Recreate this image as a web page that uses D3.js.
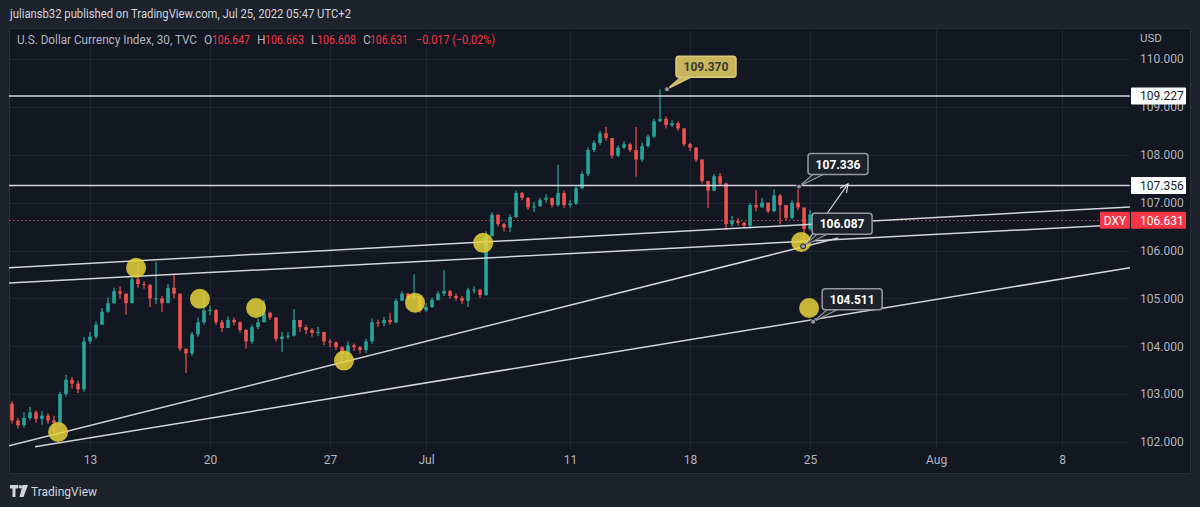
<!DOCTYPE html>
<html><head><meta charset="utf-8">
<script src="https://cdn.jsdelivr.net/npm/d3@7/dist/d3.min.js"></script>
<style>html,body{margin:0;padding:0;background:#1e222d;}svg{display:block}</style>
</head><body>
<svg id="chart" width="1200" height="507"></svg>
<script>
// ---------------- DATA ----------------
const priceTicks = [110, 109, 108, 107, 106, 105, 104, 103, 102];
const timeTickLabels = ["13", "20", "27", "Jul", "11", "18", "25", "Aug", "8"];
const timeTickDays = [0, 5, 10, 14, 20, 25, 30, 35.25, 40.5];   // trading-day index (Jun 13 = 0)
const candleFirstDay = -3.25;   // 6-hour candles
const candleStepDays = 0.25;
const firstOpen = 102.80;
const closes = [
 102.45,102.35,102.50,102.62,102.48,102.55,102.45,102.40,103.00,103.30,
 103.22,103.10,104.10,104.20,104.45,104.72,104.90,105.15,105.10,104.90,
 105.40,105.30,105.28,105.00,105.00,104.90,105.22,105.10,103.95,103.85,
 104.25,104.50,104.75,104.76,104.50,104.38,104.55,104.50,104.34,104.10,
 104.40,104.50,104.70,104.60,104.15,104.20,104.22,104.55,104.40,104.34,
 104.28,104.30,104.10,104.08,103.98,103.85,104.02,103.98,103.92,104.10,
 104.50,104.48,104.55,104.50,104.95,105.10,105.02,105.05,104.75,104.82,
 104.97,105.10,105.15,105.05,105.01,104.95,105.18,105.18,105.07,106.30,
 106.75,106.55,106.48,106.70,107.20,107.10,106.90,106.92,107.06,107.10,
 106.95,107.20,106.95,106.98,107.30,107.60,108.10,108.25,108.45,108.35,
 107.98,108.15,108.22,108.10,107.90,108.18,108.38,108.70,108.75,108.62,
 108.66,108.55,108.22,108.15,107.90,107.45,107.25,107.55,107.40,106.55,
 106.62,106.58,106.52,106.95,106.90,107.00,106.82,107.15,106.95,106.68,
 107.00,106.90,106.45,106.75,106.631];
const highs = [
 102.85,102.50,102.62,102.73,102.66,102.64,102.60,102.55,103.05,103.40,
 103.36,103.28,104.20,104.30,104.52,104.80,105.02,105.22,105.25,105.10,
 105.46,105.74,105.35,105.30,105.76,105.05,105.30,105.49,105.05,103.95,
 104.30,104.60,105.11,104.85,104.78,104.55,104.62,104.60,104.52,104.36,
 104.45,104.58,104.97,104.72,104.60,104.30,104.30,104.78,104.55,104.45,
 104.38,104.40,104.25,104.15,104.10,104.00,104.10,104.06,104.00,104.15,
 104.58,104.56,104.62,104.70,105.00,105.15,105.12,105.51,105.05,104.90,
 105.02,105.15,105.59,105.18,105.10,105.05,105.22,105.25,105.20,106.40,
 106.80,106.72,106.58,106.75,107.25,107.22,107.12,107.02,107.10,107.18,
 107.10,107.79,107.25,107.06,107.35,107.65,108.15,108.30,108.50,108.58,
 108.35,108.20,108.28,108.25,108.58,108.25,108.42,108.75,109.37,108.80,
 108.72,108.70,108.56,108.25,108.15,107.90,107.45,107.60,107.62,107.42,
 106.72,106.68,106.60,107.00,107.26,107.10,107.00,107.28,107.18,106.92,
 107.05,107.336,106.75,106.85,106.80];
const lows = [
 102.38,102.28,102.30,102.45,102.40,102.36,102.38,102.19,102.35,102.95,
 103.12,103.02,103.05,104.05,104.15,104.45,104.70,104.88,105.00,104.66,
 104.90,105.22,105.20,104.82,104.88,104.72,104.90,105.00,103.90,103.44,
 103.80,104.20,104.45,104.65,104.45,104.30,104.38,104.44,104.28,103.95,
 104.05,104.36,104.50,104.55,104.10,103.88,104.15,104.20,104.30,104.25,
 104.20,104.22,104.02,103.98,103.92,103.67,103.70,103.90,103.85,103.86,
 104.05,104.40,104.42,104.45,104.48,104.95,104.96,104.98,104.70,104.72,
 104.80,104.95,105.05,105.00,104.95,104.88,104.82,105.10,105.02,105.05,
 106.30,106.50,106.40,106.38,106.68,107.05,106.85,106.80,106.95,107.00,
 106.90,106.92,106.89,106.90,106.95,107.28,107.55,108.05,108.20,108.30,
 107.92,107.95,108.12,108.05,107.54,107.85,108.15,108.35,108.68,108.55,
 108.58,108.50,108.18,108.08,107.85,107.40,106.89,107.25,107.35,106.43,
 106.50,106.52,106.48,106.45,106.82,106.90,106.78,106.80,106.55,106.62,
 106.65,106.85,106.087,106.42,106.60];
const lastPrice = 106.631;
const horizontalLevels = [109.227, 107.356];
// drawn trend lines: [day1, price1, day2, price2]
const trendLines = [
  [-3.375, 105.64, 43.33, 106.91],
  [-3.375, 105.32, 43.33, 106.55],
  [-3.375, 101.92, 31.17, 106.26],
  [-2.29, 101.90, 43.33, 105.64]
];
const arrowLine = [29.79, 106.12, 31.58, 107.39];
const markerDays =   [-1.33, 1.92, 4.58, 6.92, 10.58, 13.54, 16.38, 29.63, 29.96];
const markerPrices = [102.21, 105.64, 104.99, 104.80, 103.70, 104.91, 106.16, 106.18, 104.80];
const calloutLabels = ["109.370", "107.336", "106.087", "104.511"];
const calloutDays =   [24.04, 29.54, 29.71, 30.13];
const calloutPrices = [109.370, 107.336, 106.087, 104.511];
const calloutGold =   [true, false, false, false];

// ---------------- LAYOUT ----------------
const W = 1200, H = 507;
const pane = {left: 9, top: 28, right: 1190, bottom: 473};
const plot = {left: 9, right: 1130, top: 28, bottom: 449};
const FONT = "Roboto, 'Liberation Sans', Arial, sans-serif";
const C = {bg: "#131722", frame: "#1e222d", grid: "#212533", text: "#b2b5be", up: "#26a69a", down: "#ef5350", red: "#f23645", line: "#d1d4dc"};

const svg = d3.select("#chart").style("font-family", FONT);
svg.append("rect").attr("width", W).attr("height", H).attr("fill", C.frame);
svg.append("rect").attr("x", pane.left + 0.5).attr("y", pane.top + 0.5)
  .attr("width", pane.right - pane.left).attr("height", pane.bottom - pane.top)
  .attr("fill", C.bg).attr("stroke", "#2a2e39").attr("stroke-width", 1);

const x = d3.scaleLinear().domain([-3.375, 43.33]).range([plot.left, plot.right]);
const y = d3.scaleLinear().domain([102, 110]).range([442, 59]);
const py = v => Math.round(y(v)) + 0.5;

svg.append("defs").append("clipPath").attr("id", "plotClip")
  .append("rect").attr("x", plot.left).attr("y", plot.top)
  .attr("width", plot.right - plot.left).attr("height", pane.bottom - plot.top);

// grid
const grid = svg.append("g");
grid.selectAll("line.h").data(priceTicks).join("line")
  .attr("x1", plot.left).attr("x2", plot.right)
  .attr("y1", d => py(d)).attr("y2", d => py(d))
  .attr("stroke", C.grid).attr("stroke-width", 1);
grid.selectAll("line.v").data(timeTickDays).join("line")
  .attr("x1", d => Math.round(x(d)) + 0.5).attr("x2", d => Math.round(x(d)) + 0.5)
  .attr("y1", plot.top).attr("y2", plot.bottom)
  .attr("stroke", C.grid).attr("stroke-width", 1);

// axes
const yAxis = d3.axisRight(y).tickValues(priceTicks).tickFormat(d3.format(".3f")).tickSize(0).tickPadding(10);
const ga = svg.append("g").attr("transform", `translate(${plot.right},0)`).call(yAxis);
ga.select(".domain").remove();
ga.selectAll("text").attr("fill", C.text).attr("font-size", 12).attr("font-family", FONT);

const xAxis = d3.axisBottom(x).tickValues(timeTickDays)
  .tickFormat((d, i) => timeTickLabels[i]).tickSize(0).tickPadding(6);
const gx = svg.append("g").attr("transform", `translate(0,${plot.bottom})`).call(xAxis);
gx.select(".domain").remove();
gx.selectAll("text").attr("fill", C.text).attr("font-size", 12).attr("font-family", FONT);

svg.append("text").attr("x", 1140).attr("y", 42).text("USD")
  .attr("fill", C.text).attr("font-size", 11.5);

// candles
const candles = closes.map((c, i) => ({
  day: candleFirstDay + i * candleStepDays,
  o: i === 0 ? firstOpen : closes[i - 1], h: highs[i], l: lows[i], c: c
}));
const cg = svg.append("g").attr("clip-path", "url(#plotClip)");
const bw = x(candleStepDays) - x(0);
const cgs = cg.selectAll("g.c").data(candles).join("g");
cgs.append("line")
  .attr("x1", d => x(d.day)).attr("x2", d => x(d.day))
  .attr("y1", d => y(d.h)).attr("y2", d => y(d.l))
  .attr("stroke", d => d.c >= d.o ? C.up : C.down).attr("stroke-width", 1.2);
cgs.append("rect")
  .attr("x", d => x(d.day) - bw * 0.3).attr("width", bw * 0.6)
  .attr("y", d => y(Math.max(d.o, d.c)))
  .attr("height", d => Math.max(1, Math.abs(y(d.o) - y(d.c))))
  .attr("fill", d => d.c >= d.o ? C.up : C.down);

// last price dotted line
cg.append("line").attr("x1", plot.left).attr("x2", plot.right)
  .attr("y1", py(lastPrice)).attr("y2", py(lastPrice))
  .attr("stroke", C.red).attr("stroke-width", 1).attr("stroke-dasharray", "1.5,2.5");

// drawings
const dg = svg.append("g").attr("clip-path", "url(#plotClip)");
dg.selectAll("line.hl").data(horizontalLevels).join("line")
  .attr("x1", plot.left).attr("x2", plot.right)
  .attr("y1", d => y(d)).attr("y2", d => y(d))
  .attr("stroke", C.line).attr("stroke-width", 1.5);
dg.selectAll("line.tl").data(trendLines).join("line")
  .attr("x1", d => x(d[0])).attr("y1", d => y(d[1]))
  .attr("x2", d => x(d[2])).attr("y2", d => y(d[3]))
  .attr("stroke", C.line).attr("stroke-width", 1.5);

// arrow
(() => {
  const [d1, p1, d2, p2] = arrowLine;
  const x1 = x(d1), y1 = y(p1), x2 = x(d2), y2 = y(p2);
  const ang = Math.atan2(y2 - y1, x2 - x1);
  const L = 9, a = 0.45;
  dg.append("line").attr("x1", x1).attr("y1", y1).attr("x2", x2).attr("y2", y2)
    .attr("stroke", C.line).attr("stroke-width", 1.2);
  dg.append("path")
    .attr("d", `M${x2 - L * Math.cos(ang - a)},${y2 - L * Math.sin(ang - a)}L${x2},${y2}L${x2 - L * Math.cos(ang + a)},${y2 - L * Math.sin(ang + a)}`)
    .attr("fill", "none").attr("stroke", C.line).attr("stroke-width", 1.2);
})();

// yellow markers
dg.selectAll("circle.m").data(markerDays.map((d, i) => [d, markerPrices[i]])).join("circle")
  .attr("cx", d => x(d[0])).attr("cy", d => y(d[1])).attr("r", 10)
  .attr("fill", "#e5d438").attr("fill-opacity", 0.85);

// callouts
const callouts = calloutLabels.map((t, i) => ({t, d: calloutDays[i], p: calloutPrices[i], gold: calloutGold[i]}));
callouts.forEach(cl => {
  const ax = x(cl.d), ay = y(cl.p);
  const bx = ax + 9, by = ay - 33, bwid = 60, bh = 21;
  const fill = cl.gold ? "#c8b55c" : "#1e222d";
  const stroke = cl.gold ? "#d9c97c" : "#9598a1";
  const g = svg.append("g");
  g.append("path")
    .attr("d", `M${ax},${ay}L${bx + 6},${by + bh - 1}L${bx + 17},${by + bh - 1}Z`)
    .attr("fill", fill).attr("stroke", stroke).attr("stroke-width", 1.2);
  g.append("rect").attr("x", bx).attr("y", by).attr("width", bwid).attr("height", bh)
    .attr("rx", 3).attr("fill", fill).attr("stroke", stroke).attr("stroke-width", 1.5);
  g.append("text").attr("x", bx + bwid / 2).attr("y", by + bh / 2 + 4.5)
    .attr("text-anchor", "middle").attr("font-size", 12).attr("font-weight", 700)
    .attr("fill", cl.gold ? "#3a3a30" : "#ffffff").text(cl.t);
  g.append("circle").attr("cx", ax).attr("cy", ay).attr("r", 2.5)
    .attr("fill", "#9598a1").attr("stroke", "#131722").attr("stroke-width", 1);
});

// axis price labels
function axisLabel(price, bg, fg) {
  const yy = y(price);
  svg.append("rect").attr("x", plot.right + 1).attr("y", yy - 8.5).attr("width", 55).attr("height", 17)
    .attr("fill", bg).attr("rx", 1);
  svg.append("text").attr("x", 1140).attr("y", yy + 4.3).attr("font-size", 12)
    .attr("fill", fg).text(d3.format(".3f")(price));
}
horizontalLevels.forEach(p => axisLabel(p, "#ffffff", "#131722"));
axisLabel(lastPrice, C.red, "#ffffff");
svg.append("rect").attr("x", plot.right - 30).attr("y", y(lastPrice) - 8.5).attr("width", 30).attr("height", 17)
  .attr("fill", C.red).attr("rx", 1);
svg.append("text").attr("x", plot.right - 15).attr("y", y(lastPrice) + 4.3).attr("text-anchor", "middle")
  .attr("font-size", 12).attr("fill", "#ffffff").text("DXY");

// header texts
svg.append("text").attr("x", 10).attr("y", 18).attr("font-size", 12).attr("fill", "#d1d4dc")
  .attr("textLength", 341).attr("lengthAdjust", "spacingAndGlyphs")
  .text("juliansb32 published on TradingView.com, Jul 25, 2022 05:47 UTC+2");
const legendParts = [
  ["U.S. Dollar Currency Index, 30, TVC", C.text, 17, 180],
  ["O", C.text, 204, null], ["106.647", C.red, 212, 38],
  ["H", C.text, 257, null], ["106.663", C.red, 265, 39],
  ["L", C.text, 311, null], ["106.608", C.red, 317, 39],
  ["C", C.text, 363, null], ["106.631", C.red, 370, 38],
  ["\u22120.017 (\u22120.02%)", C.red, 416, 79]
];
const lg = svg.append("g");
legendParts.forEach(([t, c, xx, len]) => {
  const el = lg.append("text").attr("x", xx).attr("y", 44).attr("font-size", 12).attr("fill", c).text(t);
  if (len) el.attr("textLength", len).attr("lengthAdjust", "spacingAndGlyphs");
});

// footer logo
const logo = svg.append("g").attr("transform", "translate(10,485)");
logo.append("path").attr("d", "M0,0H8V3.5H5.5V12H2.5V3.5H0Z").attr("fill", "#d1d4dc");
logo.append("circle").attr("cx", 10.3).attr("cy", 1.8).attr("r", 1.8).attr("fill", "#d1d4dc");
logo.append("path").attr("d", "M12.5,0H18L13.5,12H9.5Z").attr("fill", "#d1d4dc");
svg.append("text").attr("x", 31).attr("y", 495.5).attr("font-size", 13).attr("fill", "#d1d4dc")
  .attr("textLength", 66).attr("lengthAdjust", "spacingAndGlyphs").text("TradingView");
</script>
</body></html>
